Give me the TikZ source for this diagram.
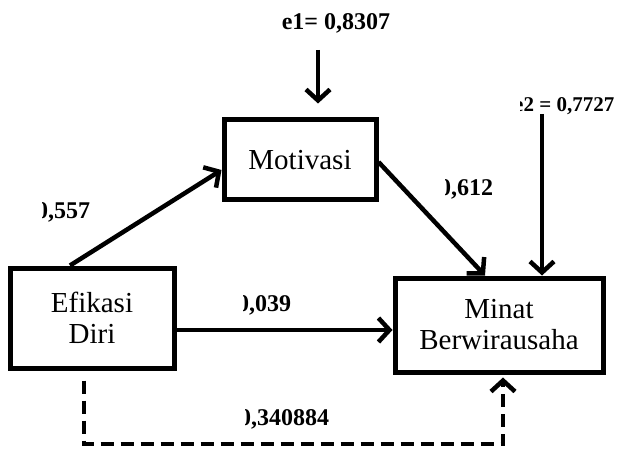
\documentclass[tikz,border=0pt]{standalone}
\usepackage{fontspec}
\setmainfont{Liberation Serif}
\usetikzlibrary{arrows.meta,calc}
\begin{document}
\begin{tikzpicture}[x=1pt,y=-1pt,
  box/.style={draw,line width=5pt,align=center,inner sep=0pt,
    font=\fontsize{29}{31}\selectfont},
  conn/.style={line width=4.5pt,-{Straight Barb[length=11pt,width=24pt,line width=4.5pt]}},
  dconn/.style={conn,dash pattern=on 13pt off 7pt},
  lbl/.style={font=\bfseries\fontsize{24}{26}\selectfont,inner sep=0pt,anchor=west}]
\useasboundingbox (0,0) rectangle (621,449);
\node[box,minimum width=152pt,minimum height=80pt] (mo) at (300,160) {Motivasi};
\node[box,minimum width=164pt,minimum height=100pt] (ef) at (92,318) {Efikasi\\Diri};
\node[box,minimum width=208pt,minimum height=94pt] (mi) at (499,325) {Minat\\Berwirausaha};
% error terms
\node[lbl,anchor=center] (e1) at (336,23) {e1= 0,8307};
\coordinate (e1s) at (318,50);
\draw[conn] (e1s) -- ([xshift=18pt,yshift=14pt]mo.north);
\begin{scope}
\clip (520,90) rectangle (621,120);
\node[lbl,font=\bfseries\fontsize{21}{23}\selectfont] (e2) at (514,106) {e2 = 0,7727};
\end{scope}
\coordinate (e2s) at (542,114);
\draw[conn] (e2s) -- ([xshift=43pt]mi.north);
% paths
\draw[conn] ([xshift=-22pt]ef.north) -- ([yshift=-10pt]mo.west);
\draw[conn] ([yshift=-2pt]mo.east) -- ([xshift=-14pt]mi.north);
\draw[conn] ([yshift=-12pt]ef.east) -- ([yshift=-5pt]mi.west);
\coordinate (ds) at ([xshift=-8pt,yshift=-10pt]ef.south);
\coordinate (de) at ([xshift=4pt,yshift=-3pt]mi.south);
\draw[dconn] (ds) -- (ds |- 0,444) -| (de);
% coefficients
\begin{scope}
\clip (42,195) rectangle (130,230);
\node[lbl] (c1) at (36,212) {0,557};
\end{scope}
\begin{scope}
\clip (445,175) rectangle (530,205);
\node[lbl] (c2) at (439,189) {0,612};
\end{scope}
\begin{scope}
\clip (243,290) rectangle (330,320);
\node[lbl] (c3) at (237,305) {0,039};
\end{scope}
\begin{scope}
\clip (245,405) rectangle (370,435);
\node[lbl] (c4) at (239,419) {0,340884};
\end{scope}
\end{tikzpicture}
\end{document}
